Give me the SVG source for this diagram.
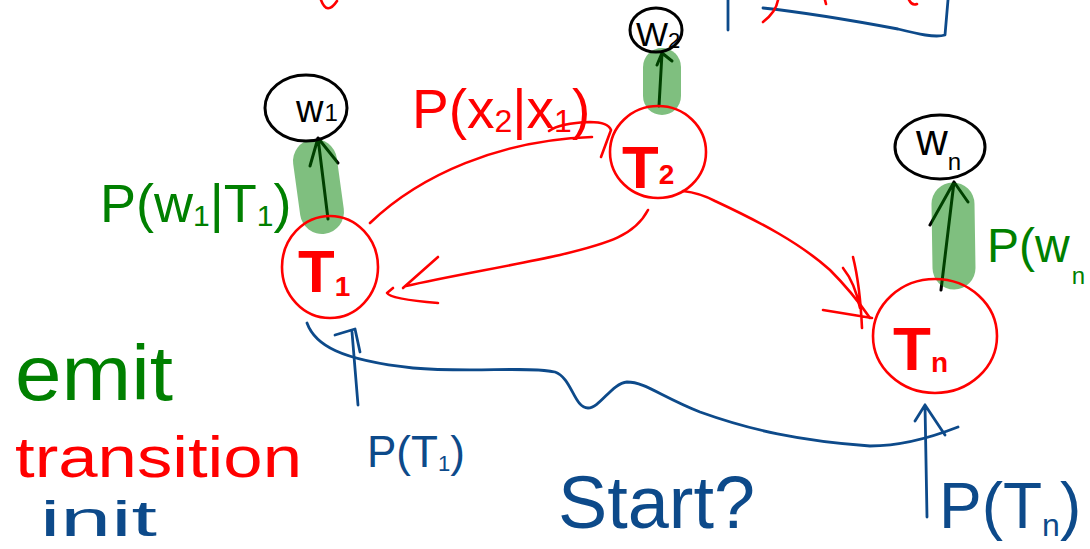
<svg xmlns="http://www.w3.org/2000/svg" width="1090" height="549" viewBox="0 0 1090 549">
<style>
.ink{fill:none;stroke-linecap:round;stroke-linejoin:round}
.red{stroke:#ff0000;stroke-width:2.6}
.blue{stroke:#0d4a8a;stroke-width:2.8}
.blk{stroke:#000;stroke-width:3}
.hl{fill:none;stroke:#008000;stroke-opacity:0.5;stroke-linecap:round}
text{font-family:"Liberation Sans",Arial,sans-serif}
.tr{fill:#ff0000}
.tg{fill:#008000}
.tb{fill:#0d4a8a}
.tk{fill:#000}
.st{font-weight:bold;fill:#ff0000}
</style>

<!-- clipped fragments at top -->
<g id="top-fragments" class="ink">
  <path class="red" d="M321,0 Q327,16 337,1"/>
  <path class="blue" d="M728,0 L728,30"/>
  <path class="blue" d="M763,8 C800,12 850,20 898,29 C918,34 935,38 945,35 L948,0"/>
  <path class="red" d="M778,0 Q776,12 763,22"/>
  <path class="red" d="M825,0 L826,4"/>
  <path class="red" d="M909,0 Q912,6 917,4"/>
</g>

<!-- connectors -->
<g id="connectors" class="ink">
  <!-- emission arrows (under highlight) -->
  <path class="blk" d="M328,219 L318,138 M310,166 L318,138 L338,163"/>
  <path class="blk" d="M659,106 L662,53 M657,65 L662,53 L672,61"/>
  <path class="blk" d="M941,290 L954,182 M930,225 L954,182 L968,202"/>
  <!-- transitions -->
  <path class="red" d="M370,223 C420,175 500,140 592,137"/>
  <path class="red" d="M549,131 Q560,123 590,122 Q608,122 611,130 L601,157"/>
  <path class="red" d="M648,210 C635,235 610,243 560,255 C510,266 450,276 406,286"/>
  <path class="red" d="M438,257 L403,288 M393,288 L387,293 Q390,299 438,303"/>
  <path class="red" d="M683,191 Q700,193 715,201 C760,222 800,243 830,270 Q852,292 870,318"/>
  <path class="red" d="M853,257 Q860,285 862,328 M843,268 Q855,283 860,308 M823,310 L872,318"/>
  <!-- init / start -->
  <path class="blue" d="M307,323 C315,345 340,360 413,368 C470,373 530,366 555,372 C572,378 574,408 588,408 C600,408 612,383 627,382 C645,382 660,396 700,412 C750,430 800,441 870,446 C905,446 935,436 958,427"/>
  <path class="blue" d="M358,405 L352,332 M335,335 L355,329 L360,352"/>
  <path class="blue" d="M927,517 L925,405 M915,421 L925,405 L945,435"/>
</g>

<!-- emission highlights -->
<g id="highlights">
  <path class="hl" stroke-width="44" d="M315,161 L322,212"/>
  <path class="hl" stroke-width="38" d="M662,67 L662,96"/>
  <path class="hl" stroke-width="43" d="M953,204 L954,268"/>
</g>

<g id="node-w1">
  <ellipse class="ink blk" cx="306" cy="108" rx="41" ry="33"/>
  <text class="tk" x="296" y="122" font-size="38">w<tspan font-size="24" dx="1" dy="-1">1</tspan></text>
</g>
<g id="node-w2">
  <ellipse class="ink blk" cx="656" cy="30" rx="26" ry="22"/>
  <text class="tk" x="636" y="46" font-size="34">W<tspan font-size="22" dy="2">2</tspan></text>
</g>
<g id="node-wn">
  <ellipse class="ink blk" cx="940" cy="147" rx="45" ry="32"/>
  <text class="tk" x="916" y="155" font-size="44">w<tspan font-size="24" dy="15">n</tspan></text>
</g>

<g id="node-t1">
  <ellipse class="ink red" cx="330" cy="267" rx="48" ry="51"/>
  <text class="st" x="298" y="292" font-size="60">T<tspan font-size="28" dy="4">1</tspan></text>
</g>
<g id="node-t2">
  <ellipse class="ink red" cx="658" cy="152" rx="48" ry="46"/>
  <text class="st" x="622" y="188" font-size="60">T<tspan font-size="28" dy="-4">2</tspan></text>
</g>
<g id="node-tn">
  <ellipse class="ink red" cx="935" cy="336" rx="62" ry="57"/>
  <text class="st" x="893" y="370" font-size="62">T<tspan font-size="28" dy="2">n</tspan></text>
</g>

<!-- labels -->
<g id="labels">
  <text class="tr" x="412" y="128" font-size="55">P(x<tspan font-size="32" dy="4">2</tspan><tspan dy="-4">|x</tspan><tspan font-size="32" dy="4">1</tspan><tspan dy="-4">)</tspan></text>
  <text class="tg" x="100" y="222" font-size="54">P(w<tspan font-size="30" dy="4">1</tspan><tspan dy="-4">|T</tspan><tspan font-size="30" dy="4">1</tspan><tspan dy="-4">)</tspan></text>
  <text class="tg" x="987" y="262" font-size="48">P(w<tspan font-size="24" dx="2" dy="22">n</tspan></text>
  <text class="tg" x="15" y="400" font-size="77" textLength="158" lengthAdjust="spacingAndGlyphs">emit</text>
  <text class="tr" x="15" y="477" font-size="58" textLength="287" lengthAdjust="spacingAndGlyphs">transition</text>
  <text class="tb" x="40" y="536" font-size="50" textLength="117" lengthAdjust="spacingAndGlyphs">init</text>
  <text class="tb" x="367" y="467" font-size="44">P(T<tspan font-size="22" dy="4">1</tspan><tspan dy="-4">)</tspan></text>
  <text class="tb" x="558" y="528" font-size="75" textLength="197" lengthAdjust="spacingAndGlyphs">Start?</text>
  <text class="tb" x="939" y="528" font-size="64">P(T<tspan font-size="32" dy="8">n</tspan><tspan dy="-8">)</tspan></text>
</g>
</svg>
